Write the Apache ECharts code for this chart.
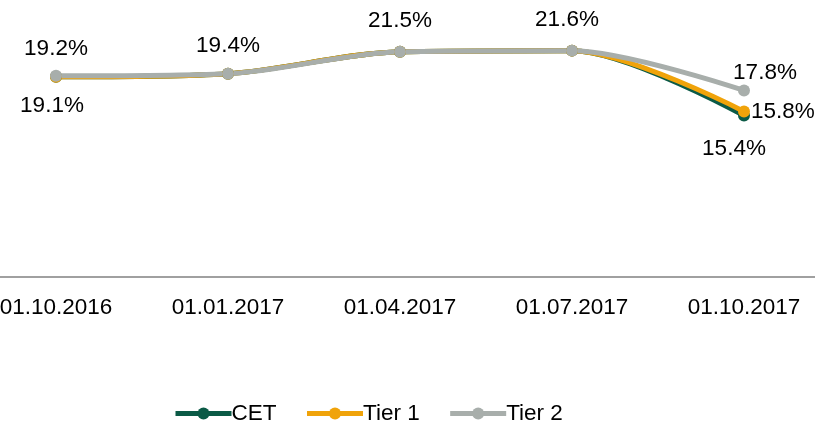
<!DOCTYPE html>
<html>
<head>
<meta charset="utf-8">
<script src="https://cdn.jsdelivr.net/npm/echarts@6/dist/echarts.min.js"></script>
<style>
  html, body { margin: 0; padding: 0; background: #fff; }
  #chart { width: 815px; height: 422px; }
</style>
</head>
<body>
<div id="chart"></div>
<script>
// Quartalsdaten
var categories = ['01.10.2016', '01.01.2017', '01.04.2017', '01.07.2017', '01.10.2017'];
var cet = [19.1, 19.4, 21.5, 21.6, 15.4];
var tier1 = [19.1, 19.4, 21.5, 21.6, 15.8];
var tier2 = [19.2, 19.4, 21.5, 21.6, 17.8];

var chart = echarts.init(document.getElementById('chart'));
var font = 'Liberation Sans, Arial, sans-serif';
var fs = 22.5;

// nur einzelne Werte beschriften
function withLabels(values, labelled) {
    return values.map(function (v, i) {
        var item = { value: v };
        if (labelled[i]) {
            item.label = Object.assign({ show: true }, labelled[i]);
        }
        return item;
    });
}

var option = {
    animation: false,
    textStyle: { fontFamily: font },
    grid: { left: -30, width: 860, top: 15, height: 262, outerBoundsMode: 'none', containLabel: false },
    xAxis: {
        type: 'category',
        data: categories,
        boundaryGap: true,
        axisLine: { lineStyle: { color: '#a0a0a0', width: 2 } },
        axisTick: { show: false },
        axisLabel: { color: '#000', fontSize: fs, margin: 19, fontFamily: font }
    },
    yAxis: {
        type: 'value',
        min: 0,
        max: 25,
        show: false,
        splitLine: { show: false }
    },
    legend: {
        top: 402,
        left: 173,
        padding: 0,
        itemWidth: 56,
        itemHeight: 15,
        itemGap: 28,
        lineStyle: { width: 5 },
        textStyle: { color: '#000', fontSize: fs, fontFamily: font, padding: [0, 0, 0, -5] },
        data: ['CET', 'Tier 1', 'Tier 2']
    },
    series: [
        {
            name: 'CET',
            type: 'line',
            smooth: 0.3,
            symbol: 'circle',
            symbolSize: 12,
            lineStyle: { width: 5, color: '#0b5a46' },
            itemStyle: { color: '#0b5a46' },
            label: { show: false, formatter: '{c}%', color: '#000', fontSize: fs, fontFamily: font },
            data: withLabels(cet, { 0: { position: 'bottom', distance: 11, offset: [-4, 0] }, 4: { position: 'bottom', distance: 16, offset: [-10, 0] } })
        },
        {
            name: 'Tier 1',
            type: 'line',
            smooth: 0.3,
            symbol: 'circle',
            symbolSize: 12,
            lineStyle: { width: 5, color: '#f0a30a' },
            itemStyle: { color: '#f0a30a' },
            label: { show: false, formatter: '{c}%', color: '#000', fontSize: fs, fontFamily: font },
            data: withLabels(tier1, { 4: { position: 'right', distance: 1 } })
        },
        {
            name: 'Tier 2',
            type: 'line',
            smooth: 0.3,
            symbol: 'circle',
            symbolSize: 12,
            lineStyle: { width: 5, color: '#a8aeab' },
            itemStyle: { color: '#a8aeab' },
            label: { show: false, formatter: '{c}%', color: '#000', fontSize: fs, fontFamily: font },
            data: withLabels(tier2, {
                0: { position: 'top', distance: 9 },
                1: { position: 'top', distance: 10 },
                2: { position: 'top', distance: 13 },
                3: { position: 'top', distance: 13, offset: [-5, 0] },
                4: { position: 'top', distance: 0, offset: [21, 0] }
            })
        }
    ]
};

chart.setOption(option);
</script>
</body>
</html>
